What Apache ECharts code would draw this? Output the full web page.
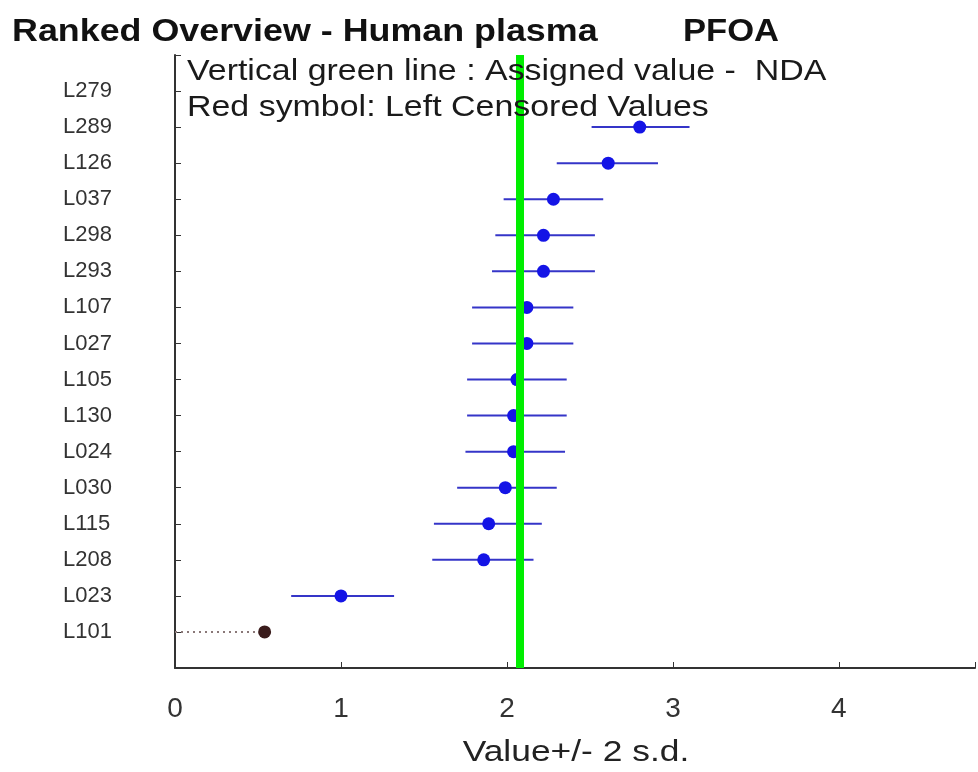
<!DOCTYPE html>
<html>
<head>
<meta charset="utf-8">
<script src="https://cdn.jsdelivr.net/npm/echarts@6/dist/echarts.min.js"></script>
<style>
  html, body { margin: 0; padding: 0; background: #fff; }
  #main { width: 978px; height: 772px; }
</style>
</head>
<body>
<div id="main"></div>
<script>
// laboratories, ranked top to bottom
const labs = ['L279', 'L289', 'L126', 'L037', 'L298', 'L293', 'L107', 'L027',
              'L105', 'L130', 'L024', 'L030', 'L115', 'L208', 'L023', 'L101'];
// reported value (null = nothing drawn)
const vals  = [null, 2.80, 2.61, 2.28, 2.22, 2.22, 2.12, 2.12,
               2.06, 2.04, 2.04, 1.99, 1.89, 1.86, 1.00, 0.54];
// value - 2 s.d.
const lows  = [null, 2.51, 2.30, 1.98, 1.93, 1.91, 1.79, 1.79,
               1.76, 1.76, 1.75, 1.70, 1.56, 1.55, 0.70, 0];
// value + 2 s.d.
const highs = [null, 3.10, 2.91, 2.58, 2.53, 2.53, 2.40, 2.40,
               2.36, 2.36, 2.35, 2.30, 2.21, 2.16, 1.32, 0.54];
// left censored results (red symbol)
const censored = [false, false, false, false, false, false, false, false,
                  false, false, false, false, false, false, false, true];
const assigned = 2.08;
const xTicks = [0, 1, 2, 3, 4];

let myChart = echarts.init(document.getElementById('main'));

let barData = [];
let pointData = [];
let censData = [];
for (let i = 0; i < labs.length; i++) {
    if (vals[i] === null) continue;
    barData.push([lows[i], highs[i], i + 1, censored[i] ? 1 : 0]);
    if (censored[i]) {
        censData.push([vals[i], i + 1]);
    } else {
        pointData.push([vals[i], i + 1]);
    }
}

// the picture is a bit stretched sideways, so texts get a scaleX
let option = {
    animation: false,
    graphic: [
        {
            type: 'text', x: 12, y: 16, scaleX: 1.12,
            style: { text: 'Ranked Overview - Human plasma', fontFamily: 'Liberation Sans', fontSize: 32, fontWeight: 'bold', fill: '#111' }
        },
        {
            type: 'text', x: 683, y: 16, scaleX: 1.08,
            style: { text: 'PFOA', fontFamily: 'Liberation Sans', fontSize: 32, fontWeight: 'bold', fill: '#111' }
        },
        {
            type: 'text', x: 187, y: 57, scaleX: 1.17, z: 10,
            style: { text: 'Vertical green line : Assigned value -  NDA', fontFamily: 'Liberation Sans', fontSize: 29, fill: '#1a1a1a' }
        },
        {
            type: 'text', x: 187, y: 93, scaleX: 1.17, z: 10,
            style: { text: 'Red symbol: Left Censored Values', fontFamily: 'Liberation Sans', fontSize: 29, fill: '#1a1a1a' }
        },
        {
            type: 'text', x: 576, y: 738, scaleX: 1.18,
            style: { text: 'Value+/- 2 s.d.', align: 'center', fontFamily: 'Liberation Sans', fontSize: 30, fill: '#222' }
        }
    ],
    grid: { left: 175, right: 0, top: 55, bottom: 104 },
    xAxis: {
        type: 'value',
        position: 'bottom',
        min: 0,
        max: 4.82,
        interval: 1,
        axisLine: { onZero: false, lineStyle: { color: '#333', width: 2 } },
        axisTick: { inside: true, length: 6, lineStyle: { color: '#333' } },
        axisLabel: {
            fontFamily: 'Liberation Sans', fontSize: 28, color: '#333', margin: 27,
            formatter: function (v) { return xTicks.indexOf(v) >= 0 ? String(v) : ''; }
        },
        splitLine: { show: false }
    },
    yAxis: {
        type: 'value',
        min: 0,
        max: 17,
        interval: 1,
        inverse: true,
        axisLine: { show: true, onZero: false, lineStyle: { color: '#333', width: 2 } },
        axisTick: { show: true, inside: true, length: 6, lineStyle: { color: '#333' } },
        axisLabel: {
            fontFamily: 'Liberation Sans', fontSize: 22, color: '#333',
            align: 'left', margin: 112, padding: [3, 0, 0, 0],
            formatter: function (v) { return labs[v - 1] || ''; }
        },
        splitLine: { show: false }
    },
    series: [
        {
            name: 'bars',
            type: 'custom',
            data: barData,
            renderItem: function (params, api) {
                let y = api.value(2);
                let a = api.coord([api.value(0), y]);
                let b = api.coord([api.value(1), y]);
                let cens = api.value(3) === 1;
                return {
                    type: 'line',
                    shape: { x1: a[0], y1: a[1], x2: b[0], y2: b[1] },
                    style: cens
                        ? { stroke: '#8a7878', lineWidth: 2, lineDash: [2, 4] }
                        : { stroke: '#3535c8', lineWidth: 2 }
                };
            },
            z: 2
        },
        {
            name: 'values',
            type: 'scatter',
            data: pointData,
            symbol: 'circle',
            symbolSize: 13,
            itemStyle: { color: '#1414e6', opacity: 1 },
            z: 3,
            markLine: {
                silent: true,
                symbol: 'none',
                label: { show: false },
                lineStyle: { color: '#00ee00', width: 8, type: 'solid' },
                data: [{ xAxis: assigned }],
                z: 4
            }
        },
        {
            name: 'censored',
            type: 'scatter',
            data: censData,
            symbol: 'circle',
            symbolSize: 13,
            itemStyle: { color: '#3a1c1c', opacity: 1 },
            z: 3
        }
    ]
};

myChart.setOption(option, true);
</script>
</body>
</html>
